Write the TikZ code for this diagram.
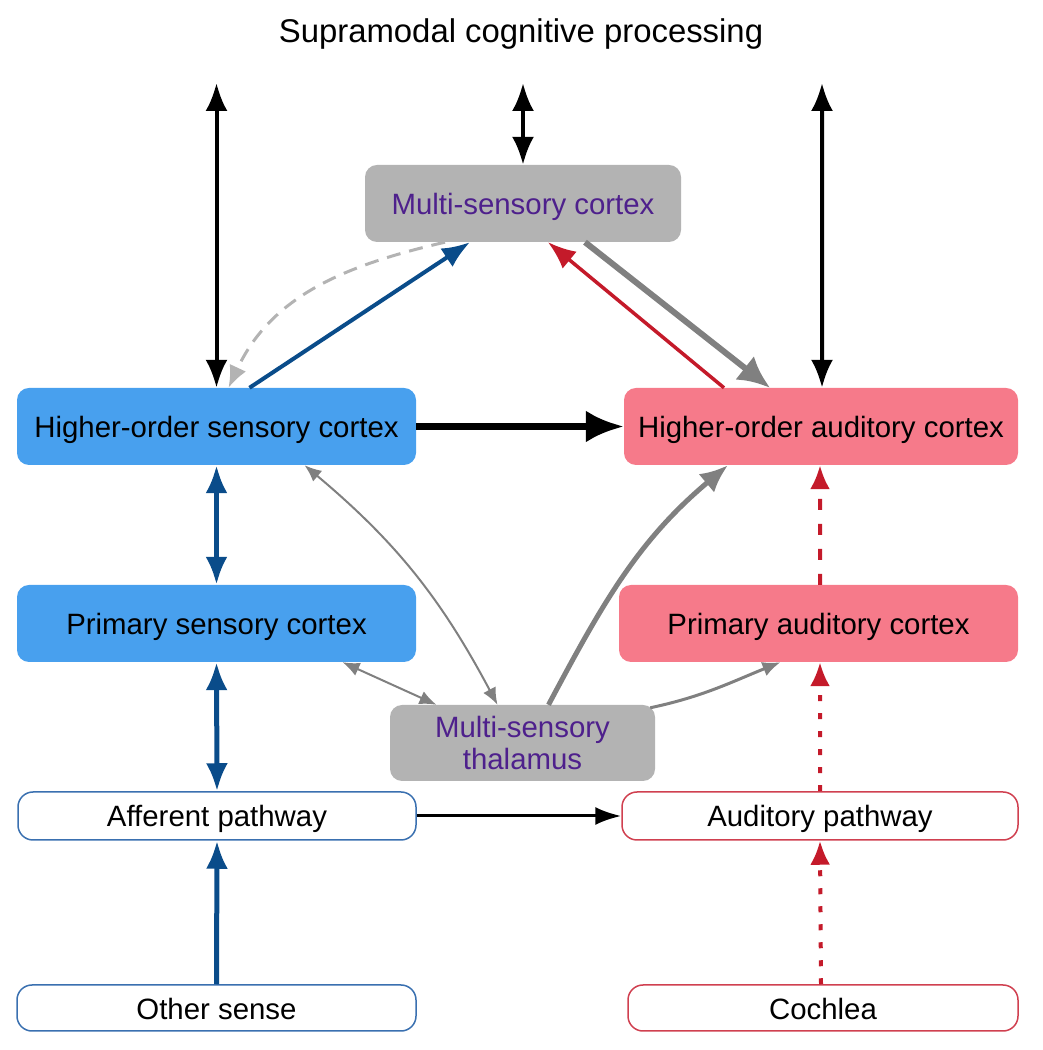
\documentclass[tikz,border=0pt]{standalone}
\usepackage{fontspec}
\setmainfont{Liberation Sans}
\usetikzlibrary{arrows.meta}
\definecolor{cortexblue}{RGB}{72,160,238}
\definecolor{cortexpink}{RGB}{246,122,138}
\definecolor{multigray}{RGB}{179,179,179}
\definecolor{multitext}{RGB}{78,32,140}
\definecolor{pathblue}{RGB}{10,76,138}
\definecolor{pathred}{RGB}{196,26,42}
\definecolor{edgeblue}{RGB}{58,112,176}
\definecolor{edgered}{RGB}{208,64,80}
\newcommand\boxfont{\fontsize{29.5}{33}\selectfont}
\begin{document}
\begin{tikzpicture}[>=latex,line join=bevel,
  cortex/.style={rounded corners=12bp,inner sep=0pt,minimum height=77bp,font=\boxfont},
  oneline/.style={text height=28bp,text depth=6bp},
  pathway/.style={draw,rounded corners=15bp,line width=1.5bp,fill=white,inner sep=0pt,minimum height=48bp,font=\boxfont,oneline},
  bigtips/.style={arrows={Latex[length=28bp,width=22bp]-Latex[length=28bp,width=22bp]}},
  bigtip/.style={arrows={-Latex[length=28bp,width=22bp]}},
  smalltips/.style={arrows={Latex[length=17bp,width=14bp]-Latex[length=17bp,width=14bp]}},
  smalltip/.style={arrows={-Latex[length=18bp,width=15bp]}},
  dots/.style={pathred,line width=4bp,dash pattern=on 6bp off 12bp,arrows={-Latex[length=24bp,width=20bp]}},
]
\useasboundingbox (0bp,0bp) rectangle (1043bp,1050bp);
%%
\node (node_0) at (521bp,1016bp) [font=\fontsize{33}{38}\selectfont] {Supramodal cognitive processing};
  \node (node_1) at (523bp,846.5bp) [cortex,oneline,fill=multigray,text=multitext,minimum width=316bp] {Multi-sensory cortex};
  \node (node_2) at (216.5bp,623.5bp) [cortex,oneline,fill=cortexblue,minimum width=399bp] {Higher-order sensory cortex};
  \node (node_3) at (821bp,623.5bp) [cortex,oneline,fill=cortexpink,minimum width=394bp] {Higher-order auditory cortex};
  \node (node_4) at (216.5bp,426.5bp) [cortex,oneline,fill=cortexblue,minimum width=399bp] {Primary sensory cortex};
  \node (node_5) at (818.5bp,426.5bp) [cortex,oneline,fill=cortexpink,minimum width=399bp] {Primary auditory cortex};
  \node (node_6) at (522.5bp,307bp) [cortex,fill=multigray,text=multitext,minimum width=265bp,minimum height=76bp,align=center] {Multi-sensory\\thalamus};
  \node (node_7) at (217bp,234bp) [pathway,draw=edgeblue,minimum width=398bp] {Afferent pathway};
  \node (node_8) at (820bp,234bp) [pathway,draw=edgered,minimum width=396bp] {Auditory pathway};
  \node (node_9) at (216.5bp,42bp) [pathway,draw=edgeblue,minimum width=399bp,minimum height=46bp] {Other sense};
  \node (node_10) at (823bp,42bp) [pathway,draw=edgered,minimum width=390bp,minimum height=46bp] {Cochlea};
  \coordinate (top_0) at (216.5bp,967bp);
  \coordinate (top_1) at (523bp,967bp);
  \coordinate (top_2) at (822bp,967bp);
%
  \draw [black,line width=4bp,bigtips] (top_0) -- (node_2.north);
  \draw [black,line width=4bp,bigtips] (top_1) -- (node_1.north);
  \draw [black,line width=4bp,bigtips] ([xshift=1bp]node_3.north) -- (top_2);
  \draw [multigray,line width=3bp,dash pattern=on 14bp off 9bp,arrows={-Latex[length=22bp,width=18bp]}] ([xshift=-78bp]node_1.south) to[out=193,in=65] ([xshift=12bp]node_2.north);
  \draw [pathblue,line width=4bp,bigtip] ([xshift=33bp]node_2.north) -- ([xshift=-53bp]node_1.south);
  \draw [pathred,line width=3.5bp,bigtip] ([xshift=-97bp]node_3.north) -- ([xshift=25bp]node_1.south);
  \draw [gray,line width=6bp,arrows={-Latex[length=32bp,width=30bp]}] ([xshift=62bp]node_1.south) -- ([xshift=-51bp]node_3.north);
  \draw [black,line width=7bp,arrows={-Latex[length=38bp,width=32bp]}] (node_2.east) -- (node_3.west);
  \draw [pathblue,line width=5bp,bigtips] (node_2.south) -- (node_4.north);
  \draw [pathblue,line width=5bp,bigtips] (node_4.south) -- (node_7.north);
  \draw [pathblue,line width=5bp,bigtip] (node_9.north) -- (node_7.south);
  \draw [black,line width=3bp,arrows={-Latex[length=26bp,width=18bp]}] (node_7.east) -- (node_8.west);
  \draw [dots] ([xshift=-2bp]node_10.north) -- (node_8.south);
  \draw [dots] (node_8.north) -- ([xshift=1.5bp]node_5.south);
  \draw [dots,dash pattern=on 11bp off 14bp] ([xshift=1.5bp]node_5.north) -- ([xshift=-1bp]node_3.south);
  \draw [gray,line width=2bp,smalltips] ([xshift=88bp]node_2.south) to[out=-40,in=118] ([xshift=-25bp]node_6.north);
  \draw [gray,line width=2bp,smalltips] ([xshift=126bp]node_4.south) -- ([xshift=-86bp]node_6.north);
  \draw [gray,line width=5bp,arrows={-Latex[length=28bp,width=24bp]}] ([xshift=26bp]node_6.north) to[out=62,in=220] ([xshift=-93bp]node_3.south);
  \draw [gray,line width=3bp,smalltip] ([xshift=-5bp,yshift=-3bp]node_6.north east) to[out=12,in=202] ([xshift=-38bp]node_5.south);
%
\end{tikzpicture}
\end{document}
